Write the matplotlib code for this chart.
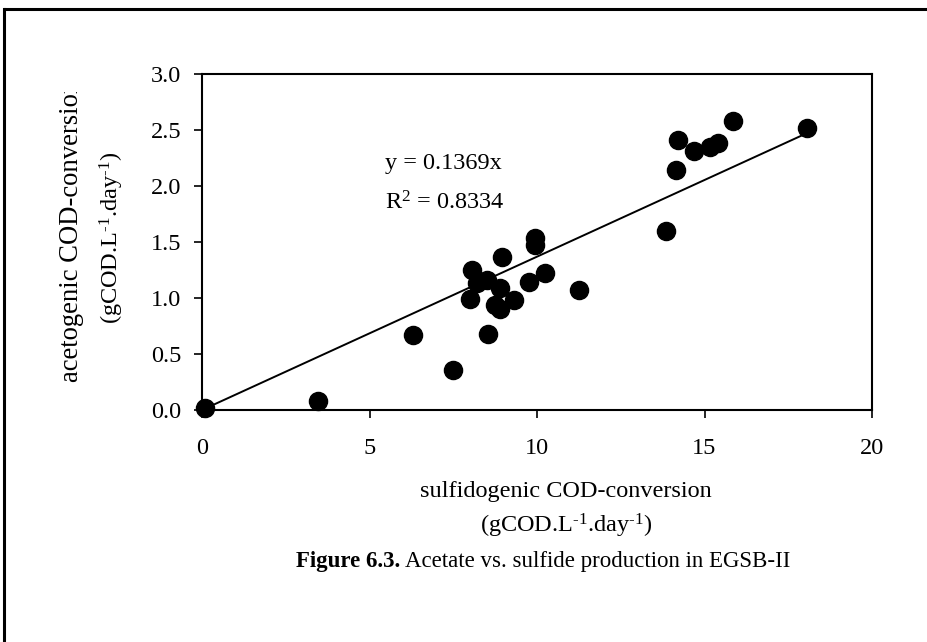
import numpy as np
import matplotlib
matplotlib.use('Agg')
import matplotlib.pyplot as plt
from matplotlib.lines import Line2D
from matplotlib.transforms import Bbox

plt.rcParams['font.family'] = ['Liberation Serif', 'DejaVu Serif']
plt.rcParams['mathtext.fontset'] = 'custom'
plt.rcParams['mathtext.rm'] = 'Liberation Serif'
plt.rcParams['mathtext.it'] = 'Liberation Serif:italic'
plt.rcParams['mathtext.bf'] = 'Liberation Serif:bold'

# sulfidogenic vs acetogenic COD-conversion (gCOD.L-1.day-1)
sulfidogenic = [0.1, 3.45, 6.3, 7.5, 8.55, 8.0, 8.05, 8.2, 8.5, 8.95, 8.9, 8.75, 8.9,
                9.3, 9.75, 9.95, 9.95, 10.25, 11.25, 13.85, 14.15, 14.2, 14.7, 15.15,
                15.4, 15.85, 18.05]
acetogenic = [0.02, 0.08, 0.67, 0.36, 0.68, 0.99, 1.25, 1.13, 1.16, 1.37, 1.09, 0.94,
              0.90, 0.98, 1.14, 1.54, 1.47, 1.22, 1.07, 1.60, 2.14, 2.41, 2.31, 2.35,
              2.38, 2.58, 2.52]
slope = 0.1369
r_squared = 0.8334
x_ticks = [0, 5, 10, 15, 20]
y_ticks = [0.0, 0.5, 1.0, 1.5, 2.0, 2.5, 3.0]

W, H = 927, 642
FS = 17.5
UNIT = r'(gCOD.L$^{\text{-}1}$.day$^{\text{-}1}$)'


def fx(px):
    return px / W


def fy(py):
    return 1 - py / H


fig = plt.figure(figsize=(W / 100, H / 100), dpi=100)
ax = fig.add_axes([fx(202), fy(410), (872 - 202) / W, (410 - 74) / H])

ax.scatter(sulfidogenic, acetogenic, s=170, c='black', zorder=3, clip_on=False)
xfit = np.array([0, max(sulfidogenic)])
ax.plot(xfit, slope * xfit, color='black', lw=1.4, zorder=2)

ax.set_xlim(0, 20)
ax.set_ylim(0, 3)
ax.set_xticks(x_ticks)
ax.set_yticks(y_ticks)
ax.set_yticklabels(['{:.1f}'.format(v) for v in y_ticks])
ax.tick_params(direction='out', length=6, width=1.2, labelsize=FS, colors='black')
ax.tick_params(axis='x', pad=14)
ax.tick_params(axis='y', pad=9)
for s in ax.spines.values():
    s.set_linewidth(1.5)

fig.text(fx(385), fy(163), 'y = {}x'.format(slope), fontsize=FS, va='center')
fig.text(fx(385), fy(203), 'R$^2$ = {}'.format(r_squared), fontsize=FS, va='center')

# axis titles (the first y line is cut off at the top, as in the scan)
yl = fig.text(fx(72), fy(382), 'acetogenic COD-conversion', fontsize=19.2,
              rotation=90, ha='center', va='bottom')
yl.set_clip_box(Bbox.from_extents(0, 0, W, H - 92))
yl.set_clip_on(True)
fig.text(fx(112), fy(238), UNIT, fontsize=FS, rotation=90, ha='center', va='center')

fig.text(fx(566), fy(492), 'sulfidogenic COD-conversion', fontsize=FS,
         ha='center', va='center')
fig.text(fx(566), fy(526), UNIT, fontsize=FS, ha='center', va='center')

# caption: bold part then plain part, placed side by side
t1 = fig.text(fx(296), fy(562), 'Figure 6.3.', fontsize=16.5, weight='bold',
              ha='left', va='center')
renderer = fig.canvas.get_renderer()
end = t1.get_window_extent(renderer).x1
fig.text((end + 5) / W, fy(562), 'Acetate vs. sulfide production in EGSB-II',
         fontsize=16.5, ha='left', va='center')

# frame of the scanned figure
fig.add_artist(Line2D([fx(5), 1], [fy(9), fy(9)], lw=2.2, color='black',
                      transform=fig.transFigure))
fig.add_artist(Line2D([fx(4), fx(4)], [fy(9), 0], lw=2.2, color='black',
                      transform=fig.transFigure))

fig.savefig('out.png', dpi=100)
